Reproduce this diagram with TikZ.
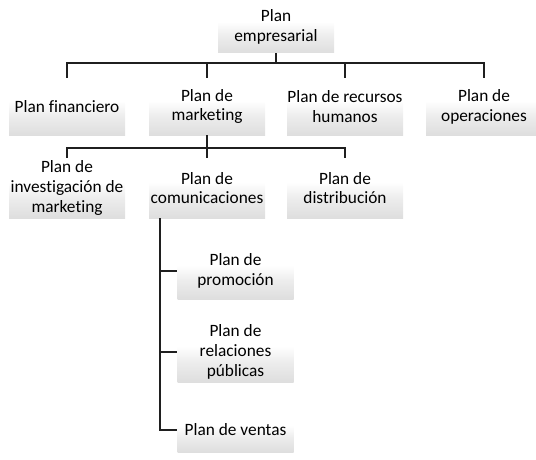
\documentclass[tikz,border=0pt]{standalone}
\usepackage{fontspec}
\setmainfont{Carlito}[Ligatures=NoCommon]
\pgfdeclareverticalshading{boxshade}{100bp}{color(0bp)=(black!13); color(25bp)=(black!13); color(42bp)=(black!7); color(55bp)=(white); color(100bp)=(white)}
\tikzset{
  plan/.style={shading=boxshade, draw=none, minimum width=116, inner sep=0pt,
    align=center, text=black, font=\fontsize{17.3}{19.8}\selectfont},
  conn/.style={draw=black!88, line width=1.6pt}
}
\begin{document}
\begin{tikzpicture}[x=1pt,y=-1pt]
\useasboundingbox (0,0) rectangle (536,460);
\node[plan, minimum height=52] (top) at (276,27) {Plan\\empresarial};
\node[plan, minimum height=57] (fin) at (67,106.5) {Plan financiero};
\node[plan, minimum height=57] (mkt) at (207,106.5) {Plan de\\marketing};
\node[plan, minimum height=57] (rh) at (345,106.5) {Plan de recursos\\humanos};
\node[plan, minimum height=57] (ope) at (484,106.5) {Plan de\\operaciones};
\node[plan, minimum height=60] (inv) at (67,188) {Plan de\\investigación de\\marketing};
\node[plan, minimum height=60] (com) at (207,188) {Plan de\\comunicaciones};
\node[plan, minimum height=60] (dis) at (345,188) {Plan de\\distribución};
\node[plan, minimum height=56] (pro) at (235.5,271) {Plan de\\promoción};
\node[plan, minimum height=60] (rel) at (235.5,352) {Plan de\\relaciones\\públicas};
\node[plan, minimum height=44] (ven) at (235.5,430) {Plan de ventas};
% connectors
\draw[conn] (top.south) -- ++(0,10) coordinate (j1);
\draw[conn] (j1) -| (fin.north);
\draw[conn] (j1) -| (mkt.north);
\draw[conn] (j1) -| (rh.north);
\draw[conn] (j1) -| (ope.north);
\draw[conn] (mkt.south) -- ++(0,13) coordinate (j2);
\draw[conn] (j2) -| (inv.north);
\draw[conn] (j2) -| (com.north);
\draw[conn] (j2) -| (dis.north);
\draw[conn] ([xshift=-47]com.south) coordinate (j3) |- (pro.west);
\draw[conn] (j3) |- (rel.west);
\draw[conn] (j3) |- (ven.west);
\end{tikzpicture}
\end{document}
